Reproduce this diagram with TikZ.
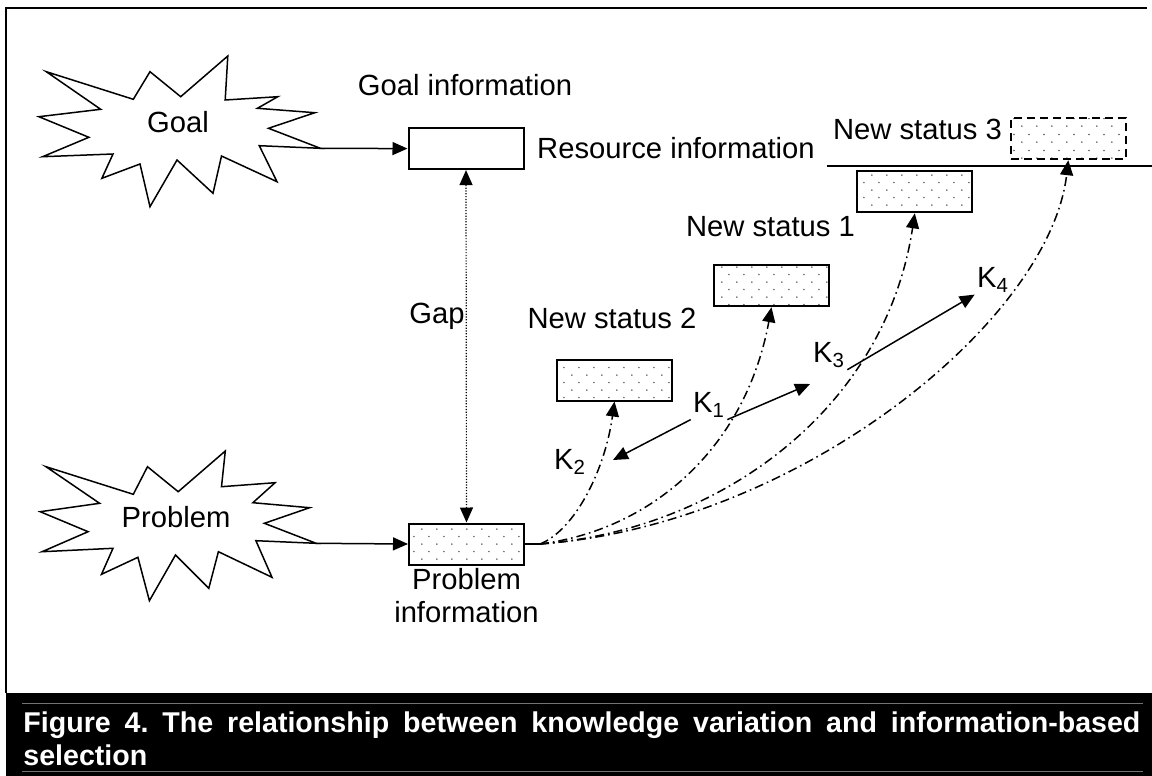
\documentclass[tikz,border=0pt]{standalone}
\usepackage{fontspec}
\setmainfont{Liberation Sans}
\usetikzlibrary{arrows.meta}
\usetikzlibrary{patterns}
\pgfdeclarepatternformonly{stipple}{\pgfqpoint{0pt}{0pt}}{\pgfqpoint{7.5pt}{7.7pt}}{\pgfqpoint{7.5pt}{7.7pt}}{%
\pgfpathcircle{\pgfqpoint{1pt}{1pt}}{0.45pt}%
\pgfpathcircle{\pgfqpoint{4.75pt}{4.85pt}}{0.45pt}%
\pgfusepath{fill}}

\begin{document}
\begin{tikzpicture}[x=0.5pt,y=0.5pt,every node/.style={font=\fontsize{14.6pt}{16.8pt}\selectfont}]
\tikzset{infobox/.style = {draw, line width=1pt, minimum width=57.5pt, minimum height=20.5pt, inner sep=0pt}}
\tikzset{statbox/.style = {infobox, pattern=stipple, pattern color=black!65}}
\tikzset{edge/.style = {->, > = {Triangle[length=7.5pt,width=6.5pt]}, line width=0.75pt}}
\tikzset{trail/.style = {edge, dash pattern=on 4.5pt off 2pt on 0.8pt off 2pt}}
\tikzset{gapline/.style = {edge, <->, line width=0.6pt, dash pattern=on 0.6pt off 0.8pt}}
\tikzset{klabel/.style = {inner sep=1pt}}
\useasboundingbox (0,0) rectangle (1152,-776);

\draw[line width=1pt] (6,-693) -- (6,-8) -- (1147,-8);

\draw[line width=0.75pt] (46.3,-71.7) -- (133.3,-99.3) -- (150,-71.7) -- (180.7,-96.7) -- (227.8,-56) -- (225.2,-100) -- (277.8,-96.7) -- (257.4,-108.3) -- (314.8,-112.7) -- (268.5,-128.3) -- (320.4,-148.3) -- (259.3,-145.7) -- (277,-181.7) -- (221.5,-156) -- (213,-193.3) -- (177,-160) -- (150,-206.7) -- (140,-164) -- (101.9,-178.3) -- (113,-154) -- (42.6,-156.7) -- (88.9,-137.3) -- (38.9,-116.7) -- (100.7,-109.3) -- cycle;
\draw[line width=0.75pt] (46,-466.7) -- (133.3,-494.3) -- (147.5,-466.7) -- (178.2,-491.7) -- (225.3,-451) -- (221.5,-486.7) -- (275.1,-482.7) -- (252.9,-502.7) -- (309.6,-507.7) -- (264.4,-523.3) -- (316.1,-543.3) -- (255.9,-540.7) -- (272,-577.3) -- (218.4,-551.7) -- (208.8,-588.3) -- (175.5,-555) -- (149.4,-600.7) -- (137.9,-557.3) -- (101.5,-574.3) -- (113,-548.3) -- (42.1,-551.7) -- (88.1,-531.7) -- (40.2,-511.7) -- (99.6,-503.3) -- cycle;
\coordinate (goaltip) at (320.4,-148.3);
\coordinate (probtip) at (316.1,-543.3);
\node (goal) at (178,-122) {Goal};
\node (problem) at (176,-517) {Problem};

\node[infobox] (goalbox) at (466,-148.6) {};
\node[statbox] (probbox) at (466.5,-544) {};
\node[statbox] (lowbox) at (614.5,-380) {};
\node[statbox] (midbox) at (771.5,-285.7) {};
\node[statbox] (highbox) at (914.8,-191.8) {};
\node[statbox, dash pattern=on 4pt off 2.5pt] (topbox) at (1068.3,-138.7) {};

\node (goalinfo) at (465,-85) {Goal information};
\node (resinfo) at (676,-148.3) {Resource information};
\node (status3) at (917.5,-129.3) {New status 3};
\node (status1) at (770.5,-226.7) {New status 1};
\node (status2) at (612,-318) {New status 2};
\node (gap) at (437,-316) {Gap};
\node[anchor=north, align=center, inner sep=1pt] (probinfo) at (probbox.south) {Problem\\information};

\node[klabel] (k1) at (709,-405) {K\textsubscript{1}};
\node[klabel] (k2) at (570,-462) {K\textsubscript{2}};
\node[klabel] (k3) at (829,-355) {K\textsubscript{3}};
\node[klabel] (k4) at (993,-280) {K\textsubscript{4}};

\coordinate (lineleft) at (827,-166);
\coordinate (lineright) at (1152,-166);
\coordinate (fork) at (540,-544);
\coordinate (k2end) at (613,-460);
\coordinate (k3end) at (810,-384);

\draw[line width=0.75pt] (lineleft) -- (lineright);
\draw[edge] (goaltip) -- (goalbox.west);
\draw[edge] (probtip) -- (probbox.west);
\draw[gapline] (goalbox.south) -- (probbox.north);
\draw[line width=0.75pt] (probbox.east) -- (fork);
\draw[trail] (fork) .. controls (575,-530) and (605,-470) .. (lowbox.south);
\draw[trail] (fork) .. controls (650,-530) and (745,-450) .. (midbox.south);
\draw[trail] (fork) .. controls (720,-530) and (885,-410) .. (highbox.south);
\draw[trail] (fork) .. controls (800,-525) and (1050,-320) .. (topbox.south);
\draw[edge] (k1.south west) -- (k2end);
\draw[edge] (k1.south east) -- (k3end);
\draw[edge] (k3.south east) -- (k4.south west);

\fill[black] (5.5,-693) rectangle (1152,-776);
\draw[black!55, line width=0.5pt] (22,-703) -- (1143,-703);
\draw[black!55, line width=0.5pt] (22,-771) -- (1143,-771);
\node[anchor=north west, inner sep=0pt, text=white, font=\fontsize{14.3pt}{16.5pt}\selectfont\bfseries\frenchspacing] (caption) at (23,-711) {\parbox{558.5pt}{Figure 4. The relationship between knowledge variation and information-based\linebreak selection}};
\end{tikzpicture}
\end{document}
